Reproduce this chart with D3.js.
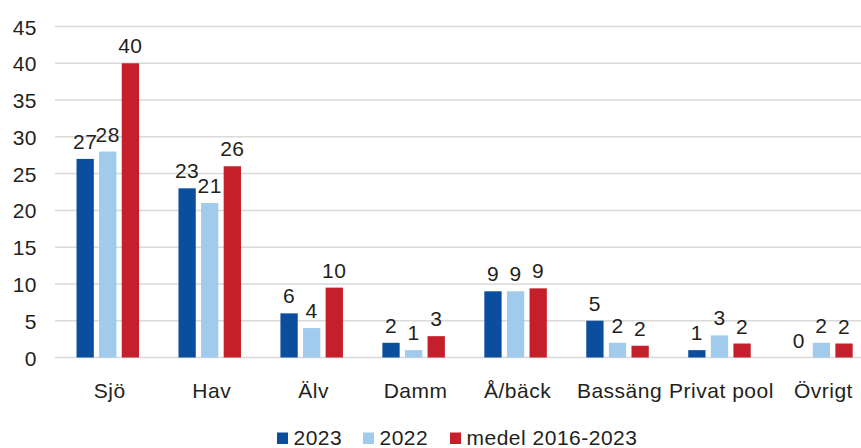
<!DOCTYPE html>
<html><head><meta charset="utf-8">
<script src="https://cdn.jsdelivr.net/npm/d3@7"></script>
<style>body{margin:0;background:#fff}svg{display:block}text{font-family:"Liberation Sans",Arial,sans-serif;fill:#231f20;letter-spacing:0.5px}</style>
</head><body><svg id="c" width="861" height="448"></svg>
<script>
const categories = ["Sjö","Hav","Älv","Damm","Å/bäck","Bassäng","Privat pool","Övrigt"];
const seriesNames = ["2023","2022","medel 2016-2023"];
const v2023 = [27,23,6,2,9,5,1,0];
const v2022 = [28,21,4,1,9,2,3,2];
const vMedel = [40,26,9.5,2.9,9.4,1.6,1.9,1.9];
const yTicks = [0,5,10,15,20,25,30,35,40,45];
const colors = ["#0c4e9e","#a0cbec","#c41f2a"];

const values = [v2023, v2022, vMedel];
const FS = 21;
const svg = d3.select("#c");
const y = d3.scaleLinear().domain([0,45]).range([357.5,26.5]);
const x = d3.scaleBand().domain(categories).range([56.8,872.4]);
const xs = d3.scaleBand().domain(seriesNames).range([0,62.5]).paddingInner(0.235);
const groupOff = (x.bandwidth()-62.5)/2;

// gridlines
svg.append("g").selectAll("line").data(yTicks).join("line")
  .attr("x1",55).attr("x2",861).attr("y1",d=>y(d)).attr("y2",d=>y(d))
  .attr("stroke","#d9d9d9").attr("stroke-width",1.5);

// y axis labels
const yAxis = d3.axisLeft(y).tickValues(yTicks).tickSize(0).tickPadding(0);
const ga = svg.append("g").attr("transform","translate(37,0)").call(yAxis);
ga.select(".domain").remove();
ga.selectAll("text").attr("font-size",FS).attr("dy","0.36em").style("font-family","Liberation Sans, Arial, sans-serif").attr("fill","#231f20");

// bars
seriesNames.forEach((s,si)=>{
  const g = svg.append("g");
  const data = categories.map((c,i)=>({c, v: values[si][i]}));
  g.selectAll("rect").data(data).join("rect")
    .attr("x",d=>x(d.c)+groupOff+xs(s))
    .attr("width",xs.bandwidth())
    .attr("y",d=>y(d.v))
    .attr("height",d=>y(0)-y(d.v))
    .attr("fill",colors[si]);
  g.selectAll("text").data(data).join("text")
    .attr("x",d=>x(d.c)+groupOff+xs(s)+xs.bandwidth()/2)
    .attr("y",d=>y(d.v)-10)
    .attr("text-anchor","middle").attr("font-size",FS)
    .text(d=>Math.round(d.v));
});

// x labels
const xAxis = d3.axisBottom(x).tickSize(0).tickPadding(0);
const gx = svg.append("g").attr("transform","translate(2,398)").call(xAxis);
gx.select(".domain").remove();
gx.selectAll("text").attr("font-size",FS).attr("dy",0).style("font-family","Liberation Sans, Arial, sans-serif").attr("fill","#231f20");

// legend
const legX = [277,363,450];
const lg = svg.append("g");
seriesNames.forEach((s,i)=>{
  lg.append("rect").attr("x",legX[i]).attr("y",432.5).attr("width",11).attr("height",11.5).attr("fill",colors[i]);
  lg.append("text").attr("x",legX[i]+16.5).attr("y",445).attr("font-size",FS).text(s);
});
</script></body></html>
